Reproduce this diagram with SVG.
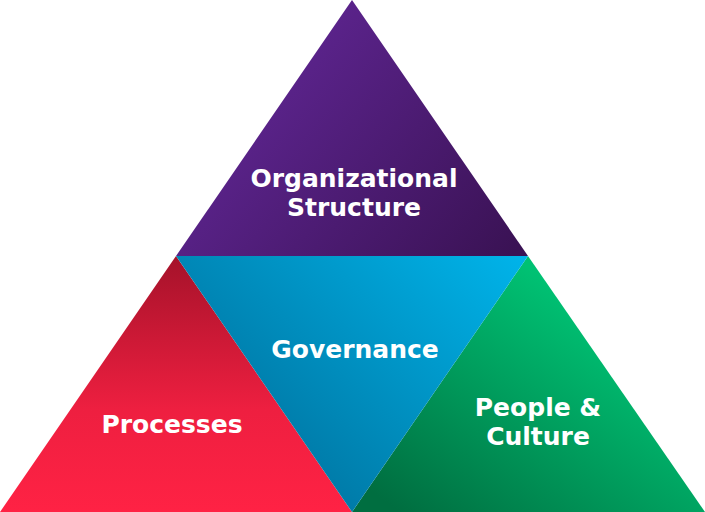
<svg xmlns="http://www.w3.org/2000/svg" width="705" height="512" viewBox="0 0 705 512">
<defs>
<linearGradient id="gPurple" gradientUnits="userSpaceOnUse" x1="250" y1="60" x2="500" y2="270">
<stop offset="0" stop-color="#5e2591"/>
<stop offset="1" stop-color="#3a1254"/>
</linearGradient>
<linearGradient id="gBlue" gradientUnits="userSpaceOnUse" x1="520" y1="250" x2="300" y2="480">
<stop offset="0" stop-color="#00b4ea"/>
<stop offset="1" stop-color="#0079a6"/>
</linearGradient>
<linearGradient id="gRed" gradientUnits="userSpaceOnUse" x1="176" y1="256" x2="176" y2="512">
<stop offset="0" stop-color="#a5122a"/>
<stop offset="0.6" stop-color="#ee1f40"/>
<stop offset="1" stop-color="#ff2244"/>
</linearGradient>
<linearGradient id="gGreen" gradientUnits="userSpaceOnUse" x1="560" y1="290" x2="400" y2="512">
<stop offset="0" stop-color="#00c173"/>
<stop offset="1" stop-color="#006e40"/>
</linearGradient>
<style>
.lbl { font-family: "DejaVu Sans", Verdana, sans-serif; font-weight: bold; font-size: 25px; fill: #ffffff; text-anchor: middle; }
</style>
</defs>
<g id="organizational-structure">
<polygon points="352,0 528,256 176,256" fill="url(#gPurple)"/>
<text class="lbl" x="354" y="187">Organizational</text>
<text class="lbl" x="354" y="216">Structure</text>
</g>
<g id="processes">
<polygon points="176,256 352,512 0,512" fill="url(#gRed)"/>
<text class="lbl" x="172" y="433">Processes</text>
</g>
<g id="people-culture">
<polygon points="528,256 705,512 352,512" fill="url(#gGreen)"/>
<text class="lbl" x="538" y="416">People &amp;</text>
<text class="lbl" x="538" y="445">Culture</text>
</g>
<g id="governance">
<polygon points="176,256 528,256 352,512" fill="url(#gBlue)"/>
<text class="lbl" x="355" y="358">Governance</text>
</g>
<g id="connectors"></g>
</svg>
